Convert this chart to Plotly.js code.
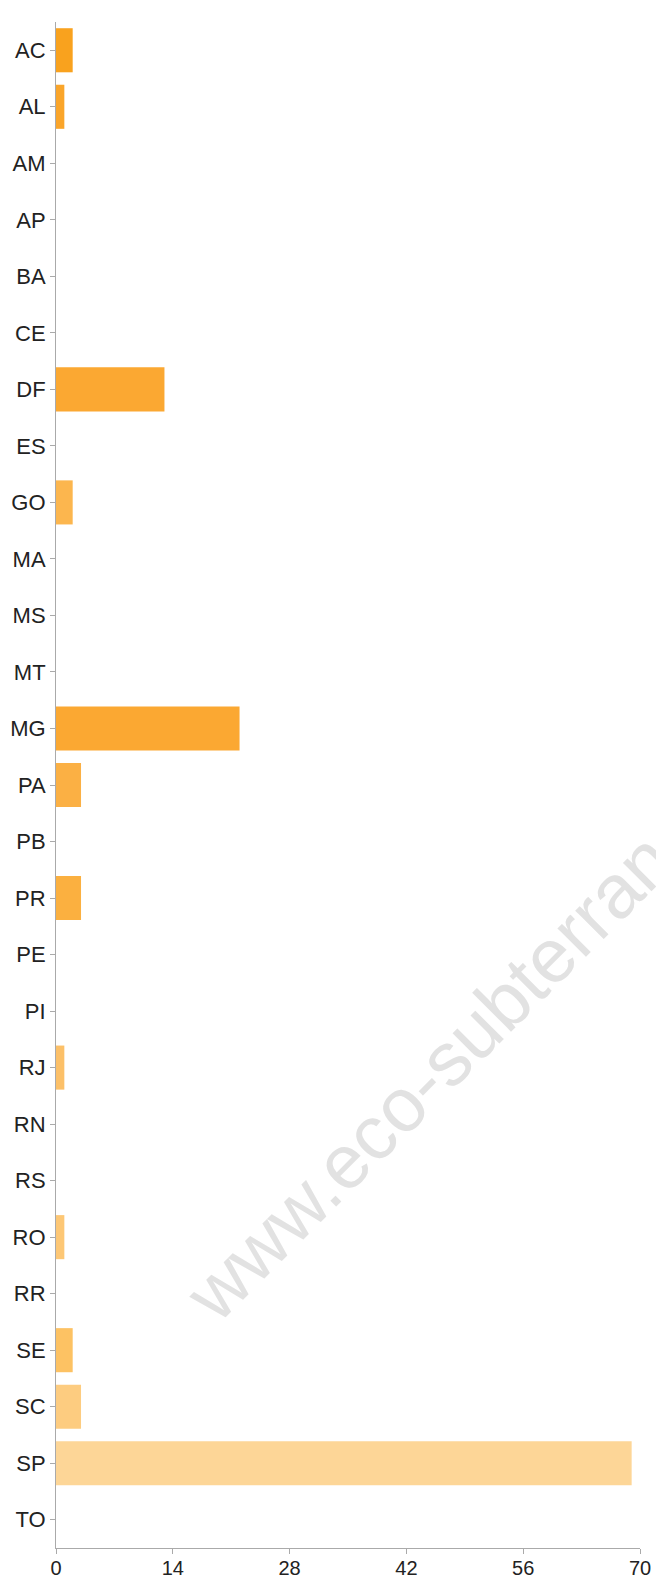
<!DOCTYPE html>
<html>
<head>
<meta charset="utf-8">
<script src="https://cdn.plot.ly/plotly-3.0.1.min.js"></script>
<style>html,body{margin:0;padding:0;background:#fff;}#chart{width:656px;height:1582px;}</style>
</head>
<body>
<div id="chart"></div>
<script>
const states = ["AC","AL","AM","AP","BA","CE","DF","ES","GO","MA","MS","MT","MG","PA","PB","PR","PE","PI","RJ","RN","RS","RO","RR","SE","SC","SP","TO"];
const counts = [2,1,0,0,0,0,13,0,2,0,0,0,22,3,0,3,0,0,1,0,0,1,0,2,3,69,0];
const barColors = ["#F9A21E","#FAA52A","#FAA52A","#FAA630","#FAA630","#FAA630","#FBA832","#FBAE3E","#FCB64E","#FBAA36","#FBAA36","#FBAA36","#FBA832","#FBB044","#FBB044","#FBB040","#FCB850","#FCB850","#FCC068","#FCC068","#FCC46E","#FDC775","#FDC775","#FDC263","#FDCC80","#FDD697","#FDD697"];
const xTicks = [0,14,28,42,56,70];
const watermark = "www.eco-subterranea.com.br";

Plotly.newPlot("chart", [{
  type: "bar",
  orientation: "h",
  y: states,
  x: counts,
  marker: {color: barColors, line: {width: 0}},
  hoverinfo: "x+y"
}], {
  width: 656, height: 1582,
  margin: {l: 56, r: 16, t: 22, b: 34, pad: 0},
  paper_bgcolor: "#fff", plot_bgcolor: "#fff",
  bargap: 0.22,
  showlegend: false,
  font: {family: "Liberation Sans, Arial, sans-serif", size: 22, color: "#222"},
  xaxis: {
    range: [0, 70], tickvals: xTicks, ticktext: xTicks.map(String),
    tickfont: {size: 20}, ticklabelstandoff: -3,
    showgrid: false, zeroline: false, showline: true, linecolor: "#aaa", linewidth: 1,
    ticks: "outside", ticklen: 5, tickcolor: "#aaa", fixedrange: true
  },
  yaxis: {
    type: "category", autorange: "reversed",
    tickfont: {size: 22},
    showgrid: false, zeroline: false, showline: true, linecolor: "#aaa", linewidth: 1,
    ticks: "outside", ticklen: 5, tickcolor: "#aaa", fixedrange: true
  },
  annotations: [{
    text: watermark, xref: "paper", yref: "paper",
    x: (548-56)/584, y: 1-(958-22)/1526, xanchor: "center", yanchor: "middle",
    textangle: -45, showarrow: false,
    font: {family: "Liberation Sans, Arial, sans-serif", size: 76, color: "#e2e2e2"}
  }]
}, {displayModeBar: false, staticPlot: true});
</script>
</body>
</html>
